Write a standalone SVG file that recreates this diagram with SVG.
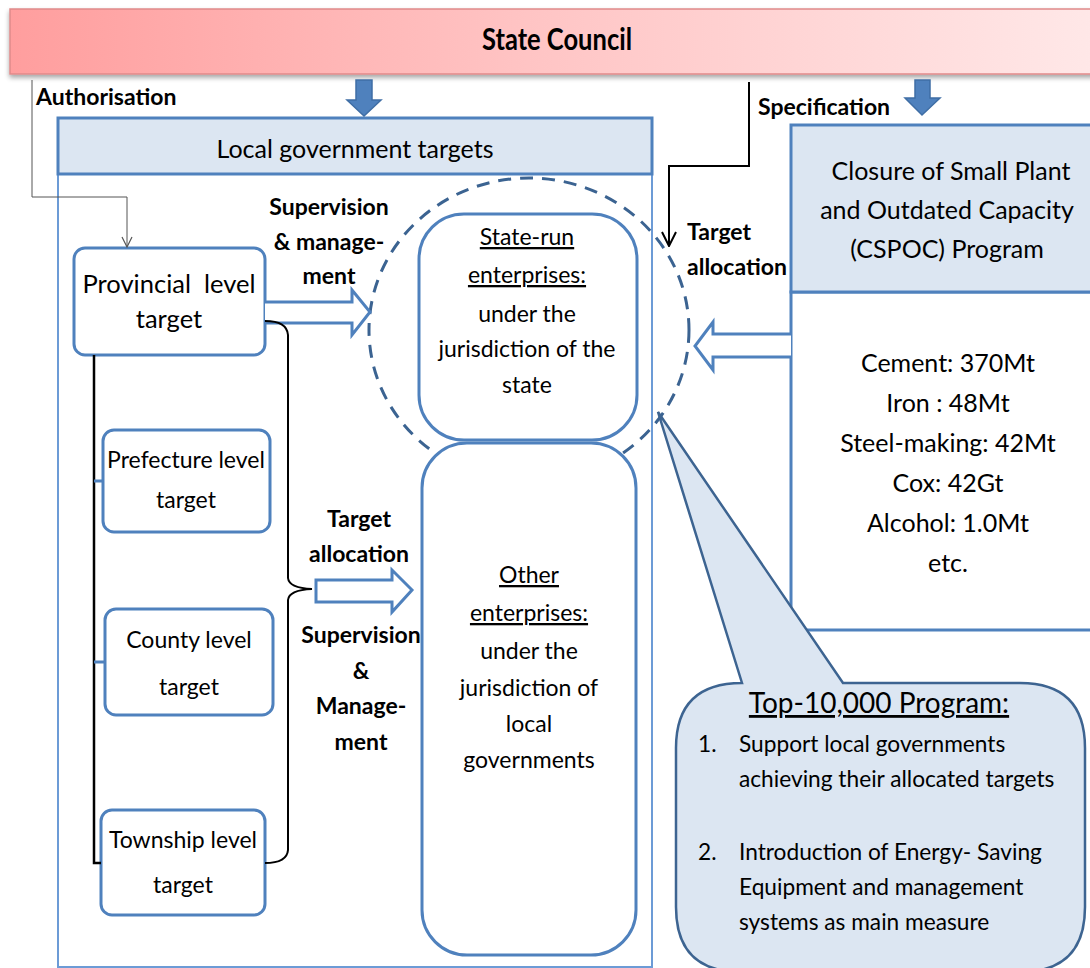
<svg xmlns="http://www.w3.org/2000/svg" width="1090" height="968" viewBox="0 0 1090 968">
<defs>
<linearGradient id="gSC" x1="0" y1="0" x2="1" y2="0">
<stop offset="0" stop-color="#ff9e9e"/>
<stop offset="0.5" stop-color="#ffc6c6"/>
<stop offset="1" stop-color="#ffe8e8"/>
</linearGradient>
<filter id="sh" x="-5%" y="-20%" width="110%" height="160%">
<feGaussianBlur in="SourceAlpha" stdDeviation="2.5"/>
<feOffset dx="0" dy="3"/>
<feComponentTransfer><feFuncA type="linear" slope="0.35"/></feComponentTransfer>
<feMerge><feMergeNode/><feMergeNode in="SourceGraphic"/></feMerge>
</filter>
<marker id="openArrow" viewBox="0 0 12 12" refX="11" refY="6" markerWidth="12" markerHeight="12" markerUnits="userSpaceOnUse" orient="auto">
<path d="M1 1 L11 6 L1 11" fill="none" stroke="#555" stroke-width="1.2"/>
</marker>
<marker id="blkArrow" viewBox="0 0 16 16" refX="15" refY="8" markerWidth="16" markerHeight="16" markerUnits="userSpaceOnUse" orient="auto">
<path d="M1 1 L15 8 L1 15" fill="none" stroke="#000" stroke-width="2"/>
</marker>
</defs>
<style>
text{font-family:Lato,"Liberation Sans",sans-serif;fill:#000}
.b{font-weight:bold}
.reg{font-size:23px}
.lbl{font-size:23px;font-weight:bold}
.hdr{fill:#dce6f2;stroke:#4f81bd;stroke-width:3}
.box{fill:#fff;stroke:#4f81bd;stroke-width:3}
.outer{fill:none;stroke:#6c9bd6;stroke-width:2}
.hollow{fill:#fff;stroke:#4f81bd;stroke-width:3;stroke-linejoin:miter}
.block{fill:#4f81bd;stroke:#3f6ea5;stroke-width:1.5}
.u{text-decoration:underline}
</style>
<rect width="1090" height="968" fill="#fff"/>

<g id="state-council">
<rect x="10" y="9" width="1090" height="65" fill="url(#gSC)" stroke="#e08a8a" stroke-width="1.5" filter="url(#sh)"/>
<text transform="translate(557,50) scale(1,1.22)" text-anchor="middle" class="b" font-size="25.5">State Council</text>
</g>

<g id="local-government">
<rect x="58" y="118" width="594" height="849" class="outer"/>
<rect x="58" y="118" width="594" height="56" class="hdr"/>
<text x="355" y="158" text-anchor="middle" font-size="25">Local government targets</text>
</g>

<g id="cspoc">
<rect x="791" y="292" width="310" height="338" class="box"/>
<rect x="791" y="125" width="310" height="167" class="hdr"/>
<text x="951" y="180" text-anchor="middle" font-size="25">Closure of Small Plant</text>
<text x="947" y="219" text-anchor="middle" font-size="25">and Outdated Capacity</text>
<text x="947" y="258" text-anchor="middle" font-size="25">(CSPOC) Program</text>
<text x="948" y="372" text-anchor="middle" font-size="25">Cement: 370Mt</text>
<text x="948" y="412" text-anchor="middle" font-size="25">Iron : 48Mt</text>
<text x="948" y="452" text-anchor="middle" font-size="25">Steel-making: 42Mt</text>
<text x="948" y="492" text-anchor="middle" font-size="25">Cox: 42Gt</text>
<text x="948" y="532" text-anchor="middle" font-size="25">Alcohol: 1.0Mt</text>
<text x="948" y="572" text-anchor="middle" font-size="25">etc.</text>
</g>

<g id="provincial">
<rect x="74" y="248" width="191" height="107" rx="11" class="box"/>
<text x="169" y="293" text-anchor="middle" font-size="25.5" xml:space="preserve">Provincial  level</text>
<text x="169" y="328" text-anchor="middle" font-size="25.5">target</text>
</g>

<g id="prefecture">
<rect x="103" y="430" width="167" height="102" rx="11" class="box"/>
<text x="186" y="468" text-anchor="middle" class="reg">Prefecture level</text>
<text x="186" y="508" text-anchor="middle" class="reg">target</text>
</g>

<g id="county">
<rect x="105" y="609" width="168" height="106" rx="11" class="box"/>
<text x="189" y="648" text-anchor="middle" class="reg">County level</text>
<text x="189" y="695" text-anchor="middle" class="reg">target</text>
</g>

<g id="township">
<rect x="101" y="810" width="164" height="105" rx="11" class="box"/>
<text x="183" y="848" text-anchor="middle" class="reg">Township level</text>
<text x="183" y="893" text-anchor="middle" class="reg">target</text>
</g>

<g id="state-run">
<ellipse cx="529" cy="330" rx="160" ry="152" fill="none" stroke="#3b6391" stroke-width="3" stroke-dasharray="13 9"/>
<rect x="419" y="214" width="218" height="226" rx="45" class="box" fill-opacity="0"/>
<text x="527" y="245" text-anchor="middle" class="reg u">State-run</text>
<text x="527" y="283" text-anchor="middle" class="reg u">enterprises:</text>
<text x="527" y="322" text-anchor="middle" class="reg">under the</text>
<text x="527" y="357" text-anchor="middle" class="reg">jurisdiction of the</text>
<text x="527" y="393" text-anchor="middle" class="reg">state</text>
</g>

<g id="other">
<rect x="422" y="443" width="214" height="512" rx="45" class="box"/>
<text x="529" y="583" text-anchor="middle" class="reg u">Other</text>
<text x="529" y="621" text-anchor="middle" class="reg u">enterprises:</text>
<text x="529" y="659" text-anchor="middle" class="reg">under the</text>
<text x="529" y="696" text-anchor="middle" class="reg">jurisdiction of</text>
<text x="529" y="732" text-anchor="middle" class="reg">local</text>
<text x="529" y="768" text-anchor="middle" class="reg">governments</text>
</g>

<g id="top10000">
<path d="M742 683 L658 412 L843 683 L1020 683 Q1085 683 1085 748 L1085 907 Q1085 972 1020 972 L741 972 Q676 972 676 907 L676 748 Q676 683 742 683 Z" fill="#dce6f2" stroke="#3d6491" stroke-width="2.5" stroke-linejoin="miter"/>
<text x="879" y="713" text-anchor="middle" font-size="28" class="u">Top-10,000 Program:</text>
<text x="698" y="752" font-size="22.7">1.</text>
<text x="739" y="752" font-size="22.7">Support local governments</text>
<text x="739" y="787" font-size="22.7">achieving their allocated targets</text>
<text x="698" y="860" font-size="22.7">2.</text>
<text x="739" y="860" font-size="22.7">Introduction of Energy- Saving</text>
<text x="739" y="895" font-size="22.7">Equipment and management</text>
<text x="739" y="930" font-size="22.7">systems as main measure</text>
</g>

<g id="connectors">
<path class="block" d="M356 80 H372 V100 H381 L364 116 L347 100 H356 Z"/>
<path class="block" d="M915 80 H930 V98 H940 L922 115 L905 98 H915 Z"/>
<path d="M32 80 V197 H127 V247" fill="none" stroke="#555" stroke-width="1" marker-end="url(#openArrow)"/>
<path d="M749 82 V166 H669 V246" fill="none" stroke="#000" stroke-width="2" marker-end="url(#blkArrow)"/>
<path class="hollow" d="M265 302 H352 V290 L370 312 L352 335 V323 H265"/>
<path class="hollow" d="M791 334 H713 V322 L695 346 L713 370 V357 H791"/>
<path class="hollow" d="M316 580 H392 V570 L412 590 L392 612 V602 H316 Z"/>
<path d="M94 355 V863 H101" fill="none" stroke="#000" stroke-width="2.5"/>
<path d="M94 481 H103 M94 662 H105" stroke="#4f81bd" stroke-width="3"/>
<path d="M265 321 Q287 321 288 335 V578 Q289 588 312 589 Q289 590 288 600 V850 Q287 863 265 863" fill="none" stroke="#000" stroke-width="2"/>
<text x="36" y="105" class="lbl">Authorisation</text>
<text x="329" y="215" text-anchor="middle" class="lbl">Supervision</text>
<text x="329" y="250" text-anchor="middle" class="lbl">&amp; manage-</text>
<text x="329" y="284" text-anchor="middle" class="lbl">ment</text>
<text x="758" y="115" class="lbl">Specification</text>
<text x="687" y="240" class="lbl">Target</text>
<text x="687" y="275" class="lbl">allocation</text>
<text x="359" y="527" text-anchor="middle" class="lbl">Target</text>
<text x="359" y="562" text-anchor="middle" class="lbl">allocation</text>
<text x="361" y="643" text-anchor="middle" class="lbl">Supervision</text>
<text x="361" y="679" text-anchor="middle" class="lbl">&amp;</text>
<text x="361" y="714" text-anchor="middle" class="lbl">Manage-</text>
<text x="361" y="750" text-anchor="middle" class="lbl">ment</text>
</g>
</svg>
